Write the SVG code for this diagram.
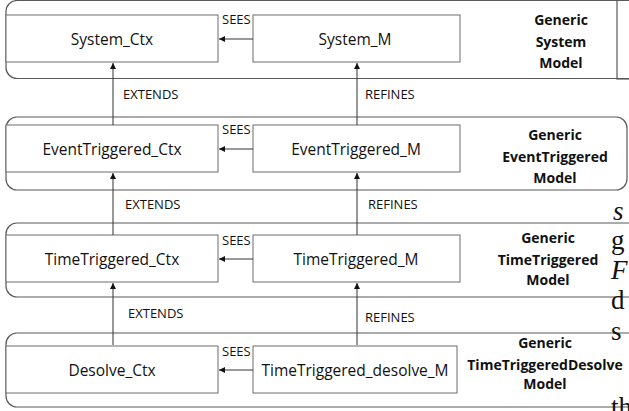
<svg xmlns="http://www.w3.org/2000/svg" width="629" height="411" viewBox="0 0 629 411">
<style>
.layer{fill:none;stroke:#595959;stroke-width:1.2}
.node{fill:#fff;stroke:#6d6d6d;stroke-width:1}
.nt{font-family:"Open Sans","Liberation Sans",sans-serif;font-size:15.5px;fill:#111;text-anchor:middle}
.el{font-family:"Open Sans","Liberation Sans",sans-serif;font-size:13px;fill:#111}
.gl{font-family:"Open Sans","Liberation Sans",sans-serif;font-size:14px;font-weight:bold;fill:#111;text-anchor:middle}
.con{stroke:#333;stroke-width:1;fill:none;marker-end:url(#ah)}
.paper{font-family:"Liberation Serif",serif;font-size:27px;fill:#111}
</style>
<defs>
<marker id="ah" viewBox="0 0 6 6" refX="6" refY="3" markerWidth="6" markerHeight="6" markerUnits="userSpaceOnUse" orient="auto">
<path d="M0,0 L6,3 L0,6 Z" fill="#111"/>
</marker>
</defs>
<g id="layers">
<rect class="layer" x="6" y="0.5" width="650" height="78" rx="11"/>
<rect class="layer" x="617" y="-5" width="30" height="84"/>
<rect class="layer" x="6" y="117" width="621" height="73" rx="11"/>
<rect class="layer" x="6" y="223" width="650" height="74" rx="11"/>
<rect class="layer" x="6" y="333" width="650" height="74" rx="11"/>
</g>
<g id="System_Ctx"><rect class="node" x="6" y="15" width="212" height="47"/><text class="nt" x="112" y="45">System_Ctx</text></g>
<g id="System_M"><rect class="node" x="253" y="15" width="207" height="47"/><text class="nt" x="355" y="45">System_M</text></g>
<g id="EventTriggered_Ctx"><rect class="node" x="6" y="125" width="212" height="47"/><text class="nt" x="112" y="155">EventTriggered_Ctx</text></g>
<g id="EventTriggered_M"><rect class="node" x="253" y="125" width="207" height="47"/><text class="nt" x="356" y="155">EventTriggered_M</text></g>
<g id="TimeTriggered_Ctx"><rect class="node" x="6" y="235" width="212" height="47"/><text class="nt" x="112" y="265">TimeTriggered_Ctx</text></g>
<g id="TimeTriggered_M"><rect class="node" x="253" y="235" width="207" height="47"/><text class="nt" x="356" y="265">TimeTriggered_M</text></g>
<g id="Desolve_Ctx"><rect class="node" x="6" y="346" width="212" height="47"/><text class="nt" x="112" y="376">Desolve_Ctx</text></g>
<g id="TimeTriggered_desolve_M"><rect class="node" x="253" y="346" width="204" height="47"/><text class="nt" x="355" y="376">TimeTriggered_desolve_M</text></g>
<g id="GenericSystem"><text class="gl" x="561" y="25">Generic</text><text class="gl" x="561" y="47">System</text><text class="gl" x="561" y="68">Model</text></g>
<g id="GenericEventTriggered"><text class="gl" x="555" y="140" font-size="13.5">Generic</text><text class="gl" x="555" y="162" font-size="13.5">EventTriggered</text><text class="gl" x="555" y="183" font-size="13.5">Model</text></g>
<g id="GenericTimeTriggered"><text class="gl" x="548" y="243">Generic</text><text class="gl" x="548" y="265">TimeTriggered</text><text class="gl" x="548" y="285">Model</text></g>
<g id="GenericTimeTriggeredDesolve"><text class="gl" x="545" y="348">Generic</text><text class="gl" x="545" y="370">TimeTriggeredDesolve</text><text class="gl" x="545" y="389">Model</text></g>
<g id="connectors">
<line class="con" x1="253" y1="39" x2="219" y2="39"/>
<line class="con" x1="253" y1="149" x2="219" y2="149"/>
<line class="con" x1="253" y1="259" x2="219" y2="259"/>
<line class="con" x1="253" y1="370" x2="219" y2="370"/>
<line class="con" x1="113" y1="125" x2="113" y2="63"/>
<line class="con" x1="357" y1="125" x2="357" y2="63"/>
<line class="con" x1="113" y1="235" x2="113" y2="173"/>
<line class="con" x1="357" y1="235" x2="357" y2="173"/>
<line class="con" x1="113" y1="345" x2="113" y2="283"/>
<line class="con" x1="357" y1="345" x2="357" y2="283"/>
<text class="el" x="222" y="24">SEES</text>
<text class="el" x="222" y="134">SEES</text>
<text class="el" x="222" y="245">SEES</text>
<text class="el" x="222" y="356">SEES</text>
<text class="el" x="123" y="99">EXTENDS</text>
<text class="el" x="365" y="99">REFINES</text>
<text class="el" x="125" y="209">EXTENDS</text>
<text class="el" x="368" y="209">REFINES</text>
<text class="el" x="128" y="318">EXTENDS</text>
<text class="el" x="365" y="322">REFINES</text>
</g>
<g id="page-fragments">
<text class="paper" x="613" y="220" font-style="italic">s</text>
<text class="paper" x="611" y="249">g</text>
<text class="paper" x="611" y="279" font-style="italic">F</text>
<text class="paper" x="611" y="309">d</text>
<text class="paper" x="611" y="340">s</text>
<text class="paper" x="611" y="416">th</text>
</g>
</svg>
